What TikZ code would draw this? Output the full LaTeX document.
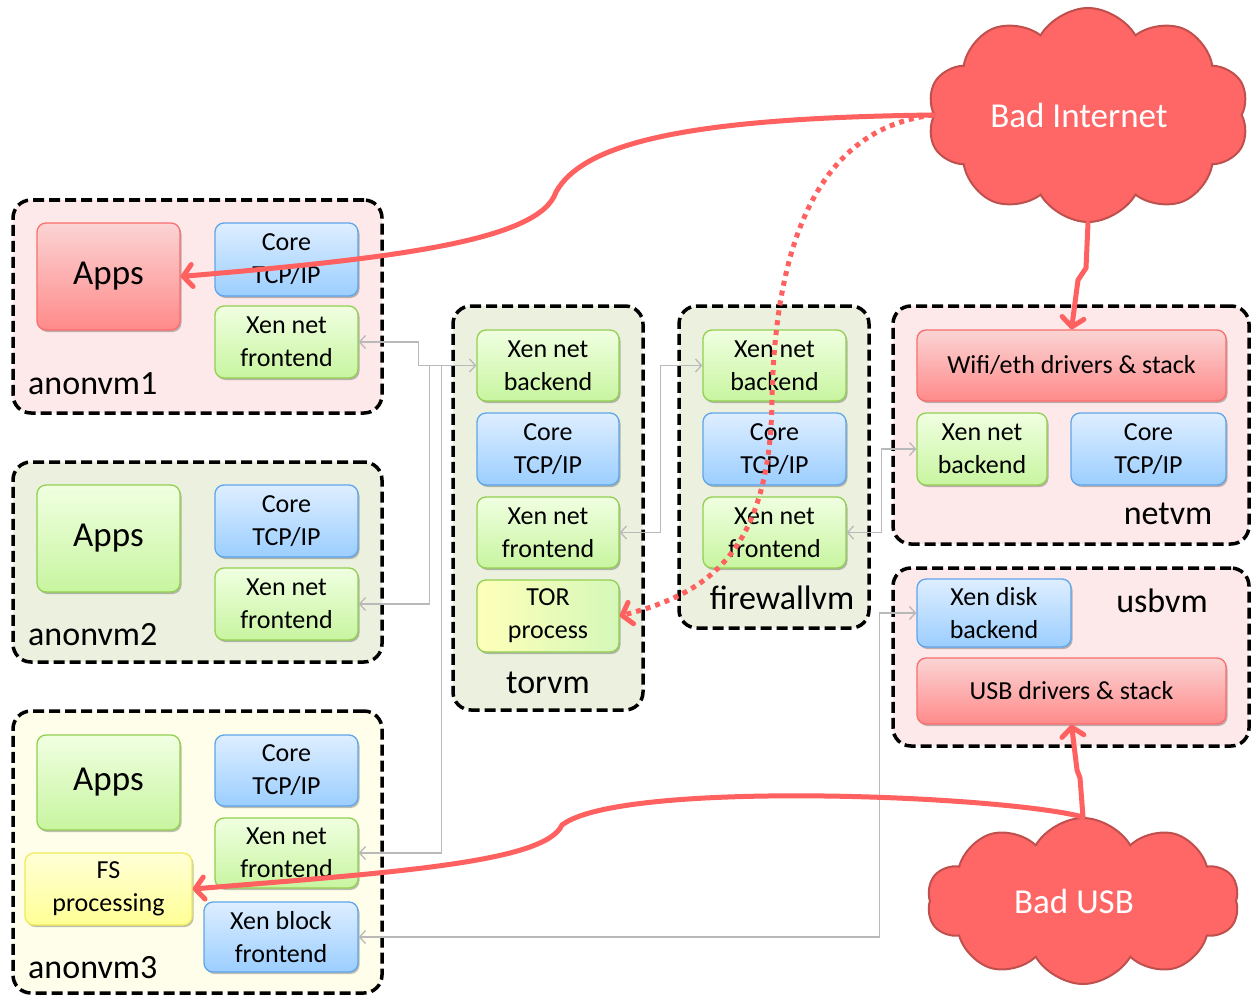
\documentclass[tikz,border=0pt]{standalone}
\usepackage{fontspec}
\setmainfont{Carlito}
\usetikzlibrary{arrows.meta,shapes.symbols,shadows}
\definecolor{cpink}{RGB}{253,233,233}
\definecolor{cgreen}{RGB}{235,241,222}
\definecolor{cyellow}{RGB}{254,254,234}
\definecolor{rtop}{RGB}{251,212,212}
\definecolor{rbot}{RGB}{255,138,138}
\definecolor{rdraw}{RGB}{250,110,110}
\definecolor{btop}{RGB}{222,238,255}
\definecolor{bbot}{RGB}{155,206,255}
\definecolor{bdraw}{RGB}{95,165,235}
\definecolor{gtop}{RGB}{240,255,225}
\definecolor{gbot}{RGB}{200,245,160}
\definecolor{gdraw}{RGB}{146,208,80}
\definecolor{ytop}{RGB}{255,255,215}
\definecolor{ybot}{RGB}{255,255,150}
\definecolor{ydraw}{RGB}{240,235,90}
\definecolor{torleft}{RGB}{255,255,185}
\definecolor{torright}{RGB}{212,248,185}
\definecolor{cloudfill}{RGB}{255,102,102}
\definecolor{clouddraw}{RGB}{192,80,77}
\definecolor{redline}{RGB}{255,96,96}
\definecolor{gline}{RGB}{185,185,185}
\newcommand\boxfont{\fontsize{26}{33}\selectfont}
\newcommand\bigfont{\fontsize{35}{40}\selectfont}
\tikzset{
  vm/.style={draw=black, line width=3.5pt, dash pattern=on 11pt off 5pt, rounded corners=18pt, inner sep=0pt},
  box/.style={rounded corners=9pt, line width=1.3pt, align=center, font=\boxfont, inner sep=0pt,
    drop shadow={shadow xshift=1.5pt, shadow yshift=-2pt, opacity=0.25, fill=black}},
  redbox/.style={box, draw=rdraw, top color=rtop, bottom color=rbot},
  bluebox/.style={box, draw=bdraw, top color=btop, bottom color=bbot},
  greenbox/.style={box, draw=gdraw, top color=gtop, bottom color=gbot},
  yellowbox/.style={box, draw=ydraw, top color=ytop, bottom color=ybot},
  torbox/.style={box, draw=gdraw, left color=torleft, right color=torright},
  lbl/.style={font=\fontsize{34}{40}\selectfont, inner sep=0pt},
  gconn/.style={draw=gline, line width=1.3pt, >={Straight Barb[length=6pt,width=13pt]}},
  redarrow/.style={draw=redline, line width=5pt, line cap=round, -{Straight Barb[length=9pt,width=22pt,round]}},
  reddot/.style={draw=redline, line width=5pt, dash pattern=on 5pt off 5pt, -{Straight Barb[length=9pt,width=22pt,round]}},
  badcloud/.style={cloud, cloud puffs=10, cloud puff arc=120, cloud ignores aspect, fill=cloudfill, draw=clouddraw, line width=2pt, text=white, font=\bigfont, inner sep=0pt}
}
\begin{document}
\begin{tikzpicture}[x=1pt,y=-1pt]
\useasboundingbox (0,0) rectangle (1252,995);
\fill[white] (0,0) rectangle (1252,995);

% containers
\node[vm, fill=cpink, minimum width=369pt, minimum height=213pt] (anon1) at (197.5,306.5) {};
\node[vm, fill=cgreen, minimum width=369pt, minimum height=200pt] (anon2) at (197.5,562) {};
\node[vm, fill=cyellow, minimum width=369pt, minimum height=282pt] (anon3) at (197.5,852) {};
\node[vm, fill=cgreen, minimum width=190pt, minimum height=404pt] (torvm) at (548,508) {};
\node[vm, fill=cgreen, minimum width=190pt, minimum height=322pt] (fwvm) at (774,467) {};
\node[vm, fill=cpink, minimum width=356pt, minimum height=238pt] (netvm) at (1071,425) {};
\node[vm, fill=cpink, minimum width=356pt, minimum height=178pt] (usbvm) at (1071,657) {};

% anonvm1
\node[redbox, font=\bigfont, minimum width=143pt, minimum height=107pt] (apps1) at (108.5,276.5) {Apps};
\node[bluebox, minimum width=143pt, minimum height=73pt] (core1) at (286.5,259.5) {Core\\TCP/IP};
\node[greenbox, minimum width=143pt, minimum height=72pt] (xf1) at (286.5,342) {Xen net\\frontend};
\node[lbl, anchor=base west] (l1) at (28,394) {anonvm1};

% anonvm2
\node[greenbox, font=\bigfont, minimum width=143pt, minimum height=107pt] (apps2) at (108.5,538.5) {Apps};
\node[bluebox, minimum width=143pt, minimum height=72pt] (core2) at (286.5,521) {Core\\TCP/IP};
\node[greenbox, minimum width=143pt, minimum height=72pt] (xf2) at (286.5,604) {Xen net\\frontend};
\node[lbl, anchor=base west] (l2) at (28,645) {anonvm2};

% anonvm3
\node[greenbox, font=\bigfont, minimum width=143pt, minimum height=95pt] (apps3) at (108.5,782.5) {Apps};
\node[bluebox, minimum width=143pt, minimum height=71pt] (core3) at (286.5,770.5) {Core\\TCP/IP};
\node[greenbox, minimum width=143pt, minimum height=70pt] (xf3) at (286.5,853) {Xen net\\frontend};
\node[yellowbox, minimum width=167pt, minimum height=72pt] (fs) at (108.5,889) {FS\\processing};
\node[bluebox, minimum width=154pt, minimum height=70pt] (xb3) at (281,937) {Xen block\\frontend};
\node[lbl, anchor=base west] (l3) at (28,978) {anonvm3};

% torvm
\node[greenbox, minimum width=142pt, minimum height=71pt] (tb) at (548,365.5) {Xen net\\backend};
\node[bluebox, minimum width=142pt, minimum height=72pt] (tc) at (548,449) {Core\\TCP/IP};
\node[greenbox, minimum width=142pt, minimum height=71pt] (tf) at (548,532.5) {Xen net\\frontend};
\node[torbox, minimum width=142pt, minimum height=72pt] (tor) at (548,616) {TOR\\process};
\node[lbl, anchor=base] (l4) at (548,693) {torvm};

% firewallvm
\node[greenbox, minimum width=143pt, minimum height=71pt] (fb) at (774.5,365.5) {Xen net\\backend};
\node[bluebox, minimum width=143pt, minimum height=72pt] (fc) at (774.5,449) {Core\\TCP/IP};
\node[greenbox, minimum width=143pt, minimum height=71pt] (ff) at (774.5,532.5) {Xen net\\frontend};
\node[lbl, anchor=base] (l5) at (782,609) {firewallvm};

% netvm
\node[redbox, minimum width=309pt, minimum height=71pt] (wifi) at (1071.5,365.5) {Wifi/eth drivers \& stack};
\node[greenbox, minimum width=130pt, minimum height=72pt] (nb) at (982,449) {Xen net\\backend};
\node[bluebox, minimum width=155pt, minimum height=72pt] (nc) at (1148.5,449) {Core\\TCP/IP};
\node[lbl, anchor=base] (l6) at (1168,524) {netvm};

% usbvm
\node[bluebox, minimum width=154pt, minimum height=68pt] (db) at (994,613) {Xen disk\\backend};
\node[redbox, minimum width=309pt, minimum height=66pt] (usb) at (1071.5,691) {USB drivers \& stack};
\node[lbl, anchor=base] (l7) at (1162,612) {usbvm};

% clouds
\node[badcloud, minimum width=322pt, minimum height=214pt] (bi) at (1088,115) {\hspace*{-18pt}Bad Internet};
\node[badcloud, minimum width=312pt, minimum height=166pt] (bu) at (1083,901) {\hspace*{-18pt}Bad USB};

% gray connectors
\draw[gconn,<->] (xf1.east) -- ++(60,0) |- (tb.west);
\draw[gconn,<-] (xf2.east) -| ([xshift=-47pt]tb.west);
\draw[gconn,<-] (xf3.east) -| ([xshift=-35pt]tb.west);
\draw[gconn,<->] (tf.east) -| ([xshift=-42pt]fb.west) -- (fb.west);
\draw[gconn,<->] (ff.east) -| ([xshift=-35pt]nb.west) -- (nb.west);
\draw[gconn,<->] (xb3.east) -| ([xshift=-37pt]db.west) -- (db.west);

% red attack arrows
\draw[redarrow] (bi.west) .. controls (700,118) and (585,140) .. (556,192) .. controls (540,240) and (400,258) .. (apps1.east);
\draw[reddot] (bi.west) .. controls (820,128) and (775,240) .. (772,400) .. controls (770,560) and (700,595) .. (tor.east);
\draw[redarrow] (bi.south) -- (1086,268) -- (1078,280) -- (wifi.north);
\draw[redarrow] (bu.north) -- (1080,778) -- (1077,770) -- (usb.south);
\draw[redarrow] (bu.north) .. controls (1000,795) and (620,780) .. (562,825) .. controls (545,862) and (400,872) .. (fs.east);
\end{tikzpicture}
\end{document}
